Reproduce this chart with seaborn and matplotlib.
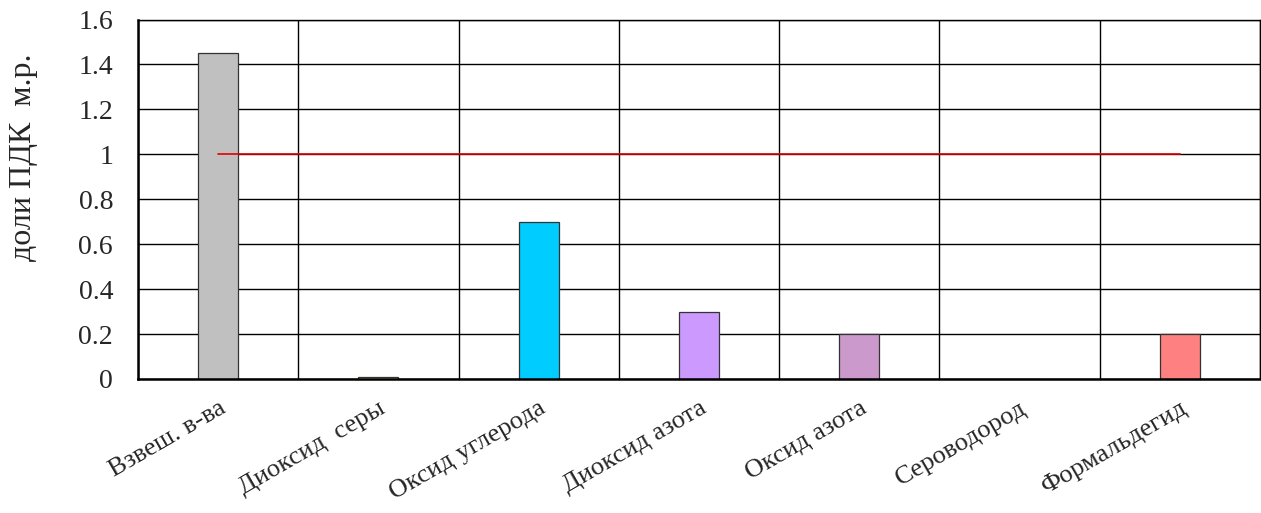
import matplotlib
matplotlib.use("Agg")
import matplotlib.pyplot as plt
import seaborn as sns
import pandas as pd

categories = ["Взвеш. в-ва", "Диоксид  серы", "Оксид углерода", "Диоксид азота",
              "Оксид азота", "Сероводород", "Формальдегид"]
values = [1.45, 0.01, 0.70, 0.30, 0.20, 0.0, 0.20]
bar_colors = ["#C0C0C0", "#FFFF99", "#00CCFF", "#CC99FF", "#CC99CC", "#C0C0C0", "#FF8080"]
limit_value = 1.0
y_ticks = [0, 0.2, 0.4, 0.6, 0.8, 1, 1.2, 1.4, 1.6]
y_tick_labels = ["0", "0.2", "0.4", "0.6", "0.8", "1", "1.2", "1.4", "1.6"]

sns.set_style("white")
plt.rcParams["font.family"] = ["Liberation Serif", "DejaVu Serif"]

df = pd.DataFrame({"category": categories, "value": values})

W, H = 1261, 513
fig = plt.figure(figsize=(W / 100, H / 100), dpi=100)
ax = fig.add_axes([138 / W, 1 - 379 / H, (1260 - 138) / W, (379 - 19.5) / H])

sns.barplot(data=df, x="category", y="value", hue="category", palette=bar_colors,
            saturation=1, width=0.25, legend=False, ax=ax, edgecolor="#333333",
            linewidth=0.9, zorder=3)

# permissible limit line from first to last category
ax.plot([0, len(categories) - 1], [limit_value, limit_value], color="#E00000",
        linewidth=1.2, zorder=4)

ax.set_xlim(-0.5, len(categories) - 0.5)
ax.set_ylim(0, 1.6)
ax.set_yticks(y_ticks)
ax.set_yticklabels(y_tick_labels, fontsize=20)

# category boundaries as vertical grid lines
ax.set_xticks([i + 0.5 for i in range(-1, len(categories))], minor=False)
ax.set_xticklabels([])
ax.set_xticks(range(len(categories)), minor=True)
ax.set_xticklabels(categories, minor=True, rotation=30, ha="right",
                   rotation_mode="anchor", fontsize=19)
ax.tick_params(axis="x", which="minor", length=0, pad=13)
ax.tick_params(axis="x", which="major", direction="out", length=6, width=1.5,
               color="black")
ax.tick_params(axis="y", direction="out", length=6, width=1.5, color="black",
               pad=12)

ax.grid(True, axis="both", which="major", color="black", linewidth=1.0, zorder=0)
ax.set_axisbelow(True)

for side in ["top", "right"]:
    ax.spines[side].set_color("black")
    ax.spines[side].set_linewidth(1.0)
for side in ["left", "bottom"]:
    ax.spines[side].set_color("black")
    ax.spines[side].set_linewidth(1.8)
    ax.spines[side].set_zorder(5)

ax.set_xlabel("")
ax.set_ylabel("доли ПДК  м.р.", fontsize=23)
ax.yaxis.set_label_coords((38 - 138) / (1260 - 138), (379 - 157) / (379 - 19.5))

fig.savefig("out.png", dpi=100, facecolor="white")
